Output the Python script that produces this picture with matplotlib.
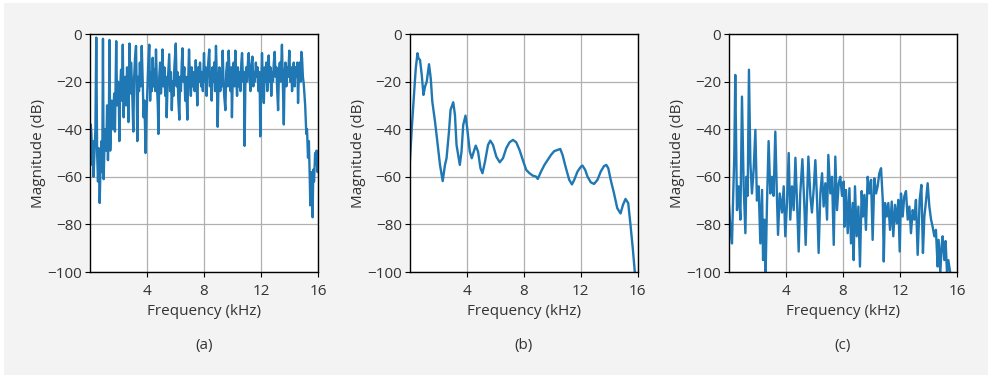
import matplotlib.pyplot as plt
from matplotlib.patches import Rectangle

plt.rcParams['font.family'] = ['Open Sans', 'DejaVu Sans']
plt.rcParams['font.size'] = 11

# (a) spectrum, values
freq_a = [0.00, 0.05, 0.10, 0.15, 0.20, 0.25, 0.30, 0.38, 0.44, 0.50, 0.56, 0.62, 0.68, 0.74, 0.80,
          0.86, 0.91, 0.96, 1.02, 1.08, 1.14, 1.20, 1.26, 1.32, 1.37, 1.42, 1.47, 1.52, 1.58, 1.64,
          1.70, 1.75, 1.84, 1.90, 1.96, 2.02, 2.06, 2.12, 2.18, 2.24, 2.30, 2.36, 2.42, 2.48, 2.54,
          2.60, 2.66, 2.70, 2.77, 2.83, 2.88, 2.94, 3.00, 3.04, 3.10, 3.16, 3.23, 3.28, 3.32, 3.38,
          3.44, 3.50, 3.56, 3.63, 3.70, 3.76, 3.82, 3.90, 3.96, 4.02, 4.08, 4.16, 4.22, 4.28, 4.34,
          4.40, 4.46, 4.52, 4.58, 4.63, 4.70, 4.76, 4.80, 4.86, 4.92, 4.98, 5.04, 5.09, 5.15, 5.22,
          5.28, 5.34, 5.38, 5.44, 5.50, 5.56, 5.62, 5.68, 5.74, 5.80, 5.86, 5.92, 6.02, 6.08, 6.14,
          6.20, 6.27, 6.32, 6.38, 6.44, 6.49, 6.55, 6.62, 6.68, 6.74, 6.83, 6.88, 6.95, 7.01, 7.08,
          7.14, 7.20, 7.28, 7.34, 7.42, 7.48, 7.53, 7.60, 7.66, 7.72, 7.80, 7.86, 7.92, 8.00, 8.06,
          8.12, 8.18, 8.24, 8.30, 8.37, 8.42, 8.48, 8.54, 8.60, 8.66, 8.72, 8.78, 8.84, 8.90, 8.96,
          9.02, 9.08, 9.14, 9.20, 9.26, 9.31, 9.36, 9.42, 9.50, 9.56, 9.62, 9.68, 9.73, 9.80, 9.86,
          9.92, 9.96, 10.02, 10.08, 10.14, 10.20, 10.26, 10.32, 10.38, 10.44, 10.50, 10.56, 10.62,
          10.67, 10.74, 10.80, 10.85, 10.90, 10.96, 11.02, 11.08, 11.14, 11.20, 11.26, 11.32, 11.40,
          11.46, 11.52, 11.58, 11.64, 11.70, 11.76, 11.82, 11.90, 11.95, 12.02, 12.07, 12.14, 12.20,
          12.26, 12.32, 12.38, 12.44, 12.50, 12.54, 12.60, 12.66, 12.72, 12.78, 12.84, 12.90, 12.96,
          13.02, 13.08, 13.14, 13.20, 13.26, 13.32, 13.38, 13.47, 13.52, 13.60, 13.66, 13.72, 13.78,
          13.84, 13.90, 13.99, 14.05, 14.12, 14.18, 14.24, 14.30, 14.36, 14.42, 14.48, 14.55, 14.60,
          14.66, 14.72, 14.78, 14.83, 14.88, 14.94, 15.00, 15.10, 15.18, 15.23, 15.30, 15.36, 15.42,
          15.46, 15.52, 15.58, 15.62, 15.67, 15.72, 15.80, 15.86, 15.90, 15.96, 16.00]
mag_a = [-48, -38, -42, -55, -45, -60, -52, -40, -1.5, -50, -62, -48, -71, -55, -45,
         -58, -2, -61, -45, -40, -49, -30, -53, -38, -2.5, -49, -38, -28, -40, -31,
         -25, -41, -3, -30, -20, -25, -45, -22, -15, -28, -4.5, -35, -22, -18, -30,
         -14, -26, -37, -4, -25, -12, -20, -33, -41, -18, -10, -5, -25, -45, -18,
         -24, -12, -22, -5, -20, -35, -28, -50, -35, -24, -14, -4.5, -28, -16, -24,
         -10, -22, -15, -24, -6.5, -22, -30, -42, -18, -12, -25, -18, -6.5, -22, -14,
         -26, -18, -35, -22, -15, -8.5, -24, -16, -32, -20, -26, -14, -4, -22, -16,
         -28, -36, -18, -24, -12, -6, -20, -14, -28, -18, -36, -22, -6.5, -18, -26,
         -14, -22, -16, -24, -11, -20, -30, -14, -20, -12, -22, -16, -24, -8, -20,
         -14, -26, -18, -12, -6.5, -22, -16, -28, -14, -20, -12, -24, -5, -18, -39,
         -20, -14, -24, -16, -22, -7, -18, -26, -32, -16, -12, -22, -7, -18, -24,
         -14, -35, -18, -12, -22, -7, -18, -26, -14, -22, -16, -24, -12,
         -8, -20, -16, -47, -22, -14, -20, -12, -8, -18, -24, -14, -9.5,
         -22, -16, -20, -12, -18, -14, -24, -16, -43, -20, -8, -22, -29,
         -14, -20, -12, -24, -16, -9, -20, -14, -26, -16, -20, -12, -7.5,
         -18, -14, -24, -32, -16, -12, -20, -4.5, -18, -38, -16, -12, -22,
         -14, -18, -7, -20, -14, -24, -16, -12, -22, -14, -18, -12, -29,
         -16, -12, -20, -7.5, -10, -18, -21, -30, -42, -40, -52, -45, -60,
         -72, -58, -70, -77, -57, -62, -50, -55, -49, -58, -52]

# (b) smooth envelope
freq_b = [0.00, 0.16, 0.33, 0.44, 0.56, 0.63, 0.74, 0.86, 0.98, 1.09, 1.21, 1.37, 1.49, 1.60, 1.79,
          1.98, 2.14, 2.33, 2.49, 2.60, 2.77, 2.88, 3.07, 3.19, 3.30, 3.53, 3.65, 3.77, 3.93, 4.05,
          4.23, 4.37, 4.51, 4.65, 4.81, 4.98, 5.12, 5.30, 5.51, 5.67, 5.86, 6.09, 6.33, 6.56, 6.79,
          7.02, 7.26, 7.49, 7.72, 7.95, 8.19, 8.42, 8.65, 8.88, 9.00, 9.23, 9.47, 9.70, 9.93, 10.16,
          10.40, 10.58, 10.74, 10.98, 11.21, 11.40, 11.56, 11.79, 12.03, 12.14, 12.33, 12.49, 12.72,
          12.95, 13.19, 13.42, 13.65, 13.81, 13.95, 14.12, 14.35, 14.58, 14.81, 14.98, 15.16, 15.35,
          15.51, 15.67, 15.81, 15.90]
mag_b = [-56.4, -39.6, -24.2, -14.4, -8.1, -10.2, -10.9, -17.2, -25.6, -22.1, -20.0, -12.7, -18.6,
         -28.4, -36.8, -46.6, -55.0, -61.8, -55.0, -52.2, -41.0, -31.9, -28.7, -34.0, -46.6, -55.0,
         -49.4, -38.2, -34.3, -39.6, -49.4, -52.2, -49.4, -46.9, -49.4, -56.4, -58.5, -53.6, -46.6,
         -44.8, -46.6, -51.5, -53.9, -52.2, -48.0, -45.5, -44.5, -45.5, -48.7, -52.9, -57.1, -58.5,
         -59.5, -59.9, -60.9, -57.8, -55.0, -52.9, -50.8, -49.2, -48.7, -48.3, -50.8, -56.4, -61.3,
         -63.2, -61.3, -57.8, -55.7, -55.3, -57.1, -59.9, -62.3, -63.0, -61.3, -57.8, -55.5, -55.0,
         -56.4, -61.3, -66.9, -73.2, -75.4, -71.8, -69.3, -71.1, -80.3, -90.1, -99.9, -102]

# (c) spectrum
freq_c = [0.00, 0.09, 0.21, 0.28, 0.37, 0.44, 0.56, 0.68, 0.80, 0.91, 1.03, 1.15, 1.22, 1.31, 1.40,
          1.50, 1.61, 1.73, 1.85, 1.96, 2.08, 2.20, 2.32, 2.39, 2.48, 2.57, 2.67, 2.78, 2.90, 3.02,
          3.13, 3.25, 3.37, 3.44, 3.56, 3.72, 3.84, 3.95, 4.07, 4.19, 4.30, 4.42, 4.54, 4.66, 4.77,
          4.89, 5.00, 5.15, 5.29, 5.38, 5.47, 5.57, 5.71, 5.82, 5.94, 6.06, 6.18, 6.29, 6.41, 6.53,
          6.64, 6.76, 6.88, 6.97, 7.11, 7.23, 7.35, 7.46, 7.58, 7.70, 7.81, 7.93, 8.05, 8.10, 8.21,
          8.33, 8.45, 8.56, 8.68, 8.75, 8.84, 8.96, 9.08, 9.19, 9.31, 9.40, 9.50, 9.61, 9.73, 9.85,
          9.97, 10.08, 10.20, 10.32, 10.43, 10.55, 10.67, 10.79, 10.86, 10.95, 11.07, 11.18, 11.30,
          11.42, 11.53, 11.65, 11.77, 11.88, 11.98, 12.07, 12.19, 12.30, 12.42, 12.54, 12.66, 12.77,
          12.89, 13.00, 13.12, 13.24, 13.38, 13.50, 13.61, 13.71, 13.82, 13.94, 14.06, 14.18, 14.29,
          14.41, 14.52, 14.64, 14.71, 14.83, 14.92, 14.99, 15.11, 15.20, 15.30, 15.39, 15.53, 15.60]
mag_c = [-72, -81, -88, -71, -51.5, -17.2, -74, -64, -78, -26.3, -64, -83.7, -60, -68, -15,
         -54, -67, -57, -40.3, -70, -64, -88, -65.5, -95, -78, -100.5, -70, -45, -67, -60,
         -68, -41, -70, -84.4, -67, -75, -64, -85, -71, -50, -78, -64, -74, -52, -70,
         -91.4, -67, -52.6, -72.5, -88.6, -70, -51.5, -68, -75, -65.5, -53, -70, -92, -67, -58.5,
         -72.5, -62.7, -78, -50.8, -67, -60, -88.6, -51.5, -74, -62.7, -60, -68, -62, -81, -65.5,
         -83.7, -64.8, -88, -71, -95, -64, -85, -72.5, -97.7, -66, -76.7, -67.6, -82.3, -60, -67,
         -61.3, -86.5, -60.6, -67, -64, -58.5, -56.4, -69.7, -95.6, -71, -76.7, -71, -82.3,
         -70.4, -85, -71.8, -79.5, -69.7, -91.4, -67, -76.7, -68.3, -66, -78, -72.5, -83.7,
         -74, -78, -69.7, -92.8, -69.7, -63.4, -92, -76.7, -70.4, -62.7, -72.5, -78, -81,
         -85, -82.3, -97.7, -86.5, -100.5, -89, -85, -95, -87, -100.5, -95, -100.5, -101]

captions = ['(a)', '(b)', '(c)']
xticks = [4, 8, 12, 16]
yticks = [0, -20, -40, -60, -80, -100]

text_color = '#333333'
fig = plt.figure(figsize=(9.88, 3.75), dpi=100, facecolor='#f3f3f3')
# thin white margin on the left and top edges
fig.patches.append(Rectangle((0, 0), 4 / 988, 1, transform=fig.transFigure,
                             facecolor='white', edgecolor='none', zorder=-10))
fig.patches.append(Rectangle((0, 1 - 3 / 375), 1, 3 / 375, transform=fig.transFigure,
                             facecolor='white', edgecolor='none', zorder=-10))

lefts = [90 / 988, 409.5 / 988, 729 / 988]
series = [(freq_a, mag_a), (freq_b, mag_b), (freq_c, mag_c)]

for left, (f, m), cap in zip(lefts, series, captions):
    ax = fig.add_axes([left, 1 - 272 / 375, 228 / 988, 238 / 375])
    ax.plot(f, m, color='#1f77b4', lw=1.7)
    ax.set_xlim(0, 16)
    ax.set_ylim(-100, 0)
    ax.set_xticks(xticks)
    ax.set_yticks(yticks)
    ax.grid(True, color='#b0b0b0', lw=0.9)
    ax.set_axisbelow(True)
    ax.tick_params(colors=text_color, labelsize=11, length=3.5, width=0.8)
    ax.tick_params(axis='x', pad=5)
    ax.tick_params(axis='y', pad=2)
    ax.tick_params(axis='both', color='black')
    for s in ax.spines.values():
        s.set_linewidth(1.0)
    ax.set_xlabel('Frequency (kHz)', color=text_color, fontsize=11, labelpad=4)
    ax.set_ylabel('Magnitude (dB)', color=text_color, fontsize=11, labelpad=1)
    ax.text(0.5, -0.31, cap, transform=ax.transAxes, ha='center', va='center',
            color=text_color, fontsize=11)

fig.savefig('out.png', dpi=100, facecolor=fig.get_facecolor())
